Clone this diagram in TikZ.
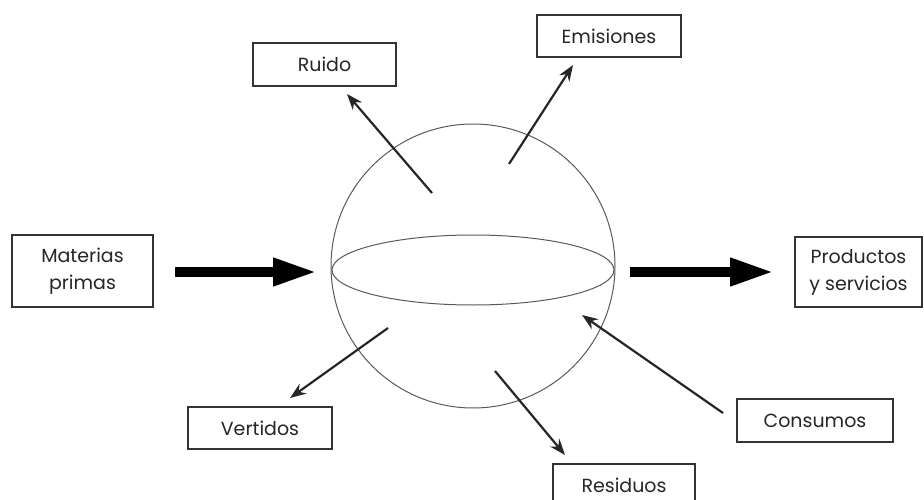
\documentclass[tikz,border=0pt]{standalone}
\usepackage{fontspec}
\setmainfont{Poppins}
\usepackage{tikz}
\usetikzlibrary{arrows.meta}

\begin{document}
\begin{tikzpicture}[
    x=1pt, y=-1pt,
    box/.style={rectangle, draw=black!80, line width=2pt, fill=white, inner sep=0pt, align=center, font=\fontsize{19}{27}\selectfont, text=black!85},
    flujo/.style={line width=10pt, -{Triangle[length=44pt, width=26pt]}},
    arrow/.style={line width=2.2pt, black!85, -{Stealth[length=16pt, width=12pt]}}
]
\useasboundingbox (0,0) rectangle (924,500);

% esfera
\node[circle, draw=black!65, line width=1pt, minimum size=284pt, inner sep=0pt] (esfera) at (473,266) {};
\draw[black!65, line width=1pt] (473,270) ellipse [x radius=141pt, y radius=35pt];

% cajas
\node[box, minimum width=141pt, minimum height=72pt] (materias) at (82.5,271) {Materias\\primas};
\node[box, minimum width=127pt, minimum height=70pt] (productos) at (858.5,272) {Productos\\y servicios};
\node[box, minimum width=143pt, minimum height=43pt] (ruido) at (324.5,64.5) {Ruido};
\node[box, minimum width=144pt, minimum height=42pt] (emisiones) at (609,36) {Emisiones};
\node[box, minimum width=144pt, minimum height=42pt] (vertidos) at (260,428) {Vertidos};
\node[box, minimum width=142pt, minimum height=42pt] (residuos) at (624,485) {Residuos};
\node[box, minimum width=156pt, minimum height=43pt] (consumos) at (815,420.5) {Consumos};

% extremos de las flechas
\coordinate (entra1) at (175,272);
\coordinate (entra2) at (317,272);
\coordinate (sale1) at (630,272);
\coordinate (sale2) at (774,272);
\coordinate (ruido1) at (432,193);
\coordinate (ruido2) at (347,94);
\coordinate (emis1) at (509,164);
\coordinate (emis2) at (573,65);
\coordinate (vert1) at (388,328);
\coordinate (vert2) at (290,398);
\coordinate (resid1) at (495,371);
\coordinate (resid2) at (565,455);
\coordinate (cons1) at (723,413);
\coordinate (cons2) at (582,315);

\draw[flujo] (entra1) -- (entra2);
\draw[flujo] (sale1) -- (sale2);
\draw[arrow] (ruido1) -- (ruido2);
\draw[arrow] (emis1) -- (emis2);
\draw[arrow] (vert1) -- (vert2);
\draw[arrow] (resid1) -- (resid2);
\draw[arrow] (cons1) -- (cons2);

\end{tikzpicture}
\end{document}
